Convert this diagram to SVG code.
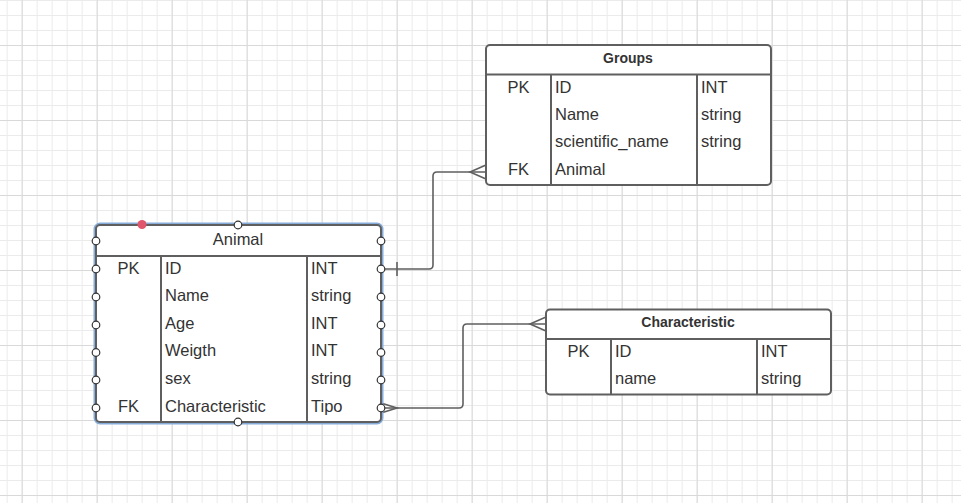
<svg xmlns="http://www.w3.org/2000/svg" width="961" height="503" viewBox="0 0 961 503">
<defs>
<pattern id="gMinor" patternUnits="userSpaceOnUse" x="6.67" y="0" width="15" height="15"><path d="M0.5 0V15M0 0.5H15" stroke="#ebebeb" stroke-width="1" fill="none"/></pattern>
<pattern id="gMajor" patternUnits="userSpaceOnUse" x="21.67" y="45" width="75" height="75"><path d="M0.5 0V75M0 0.5H75" stroke="#d9d9d9" stroke-width="1" fill="none"/></pattern>
<style>
.box{fill:#fff;stroke:#5f5f5f;stroke-width:2}
.ln{stroke:#5f5f5f;stroke-width:2;fill:none}
.t{font-family:"Liberation Sans",Arial,sans-serif;font-size:16.5px;fill:#333}
.h{font-family:"Liberation Sans",Arial,sans-serif;font-size:14px;font-weight:bold;fill:#333}
.c{text-anchor:middle}
.conn{stroke:#5f5f5f;stroke-width:1.6;fill:none}
.pt{fill:#fff;stroke:#333;stroke-width:1.2}
</style>
</defs>
<rect width="961" height="503" fill="#fff"/>
<rect width="961" height="503" fill="url(#gMinor)"/>
<rect width="961" height="503" fill="url(#gMajor)"/>

<g id="connectors">
<path class="conn" d="M381 269H429Q433 269 433 265V176Q433 172 437 172H486"/>
<path class="conn" d="M397 262V276"/>
<path class="conn" d="M486 165L470 172L486 179"/>
<path class="conn" d="M381 408H459Q463 408 463 404V328Q463 324 467 324H546"/>
<path class="conn" d="M381 403L397 408L381 413"/>
<path class="conn" d="M546 317L530 324L546 331"/>
</g>

<g id="animal">
<rect x="96" y="225" width="285" height="197" rx="4" fill="none" stroke="#86acd9" stroke-width="5"/>
<rect class="box" x="96" y="225" width="285" height="197" rx="4"/>
<path class="ln" d="M96 256H381M161 256V422M307 256V422"/>
<text class="t c" x="238" y="244.5">Animal</text>
<text class="t c" x="128.5" y="273.5">PK</text>
<text class="t" x="165" y="273.5">ID</text>
<text class="t" x="311" y="273.5">INT</text>
<text class="t" x="165" y="301">Name</text>
<text class="t" x="311" y="301">string</text>
<text class="t" x="165" y="328.6">Age</text>
<text class="t" x="311" y="328.6">INT</text>
<text class="t" x="165" y="356.2">Weigth</text>
<text class="t" x="311" y="356.2">INT</text>
<text class="t" x="165" y="383.8">sex</text>
<text class="t" x="311" y="383.8">string</text>
<text class="t c" x="128.5" y="411.5">FK</text>
<text class="t" x="165" y="411.5">Characteristic</text>
<text class="t" x="311" y="411.5">Tipo</text>
<g>
<circle class="pt" cx="96" cy="241" r="3.8"/><circle class="pt" cx="96" cy="269" r="3.8"/><circle class="pt" cx="96" cy="297" r="3.8"/><circle class="pt" cx="96" cy="325" r="3.8"/><circle class="pt" cx="96" cy="352.5" r="3.8"/><circle class="pt" cx="96" cy="380" r="3.8"/><circle class="pt" cx="96" cy="408" r="3.8"/>
<circle class="pt" cx="381" cy="241" r="3.8"/><circle class="pt" cx="381" cy="269" r="3.8"/><circle class="pt" cx="381" cy="297" r="3.8"/><circle class="pt" cx="381" cy="325" r="3.8"/><circle class="pt" cx="381" cy="352.5" r="3.8"/><circle class="pt" cx="381" cy="380" r="3.8"/><circle class="pt" cx="381" cy="408" r="3.8"/>
<circle class="pt" cx="238" cy="225" r="3.8"/><circle class="pt" cx="238" cy="422" r="3.8"/>
<circle cx="142" cy="224.5" r="4.5" fill="#e0566c"/>
</g>
</g>

<g id="groups">
<rect class="box" x="486" y="45" width="285" height="140" rx="4"/>
<path class="ln" d="M486 74.5H771M551 74.5V185M697 74.5V185"/>
<text class="h c" x="628" y="62.7">Groups</text>
<text class="t c" x="518.5" y="92.7">PK</text>
<text class="t" x="555" y="92.7">ID</text>
<text class="t" x="701" y="92.7">INT</text>
<text class="t" x="555" y="120">Name</text>
<text class="t" x="701" y="120">string</text>
<text class="t" x="555" y="147.4">scientific_name</text>
<text class="t" x="701" y="147.4">string</text>
<text class="t c" x="518.5" y="174.8">FK</text>
<text class="t" x="555" y="174.8">Animal</text>
</g>

<g id="characteristic">
<rect class="box" x="546" y="309.5" width="285" height="85" rx="4"/>
<path class="ln" d="M546 339H831M611 339V394.5M757 339V394.5"/>
<text class="h c" x="688" y="327.3">Characteristic</text>
<text class="t c" x="578.5" y="356.7">PK</text>
<text class="t" x="615" y="356.7">ID</text>
<text class="t" x="761" y="356.7">INT</text>
<text class="t" x="615" y="384.2">name</text>
<text class="t" x="761" y="384.2">string</text>
</g>
</svg>
